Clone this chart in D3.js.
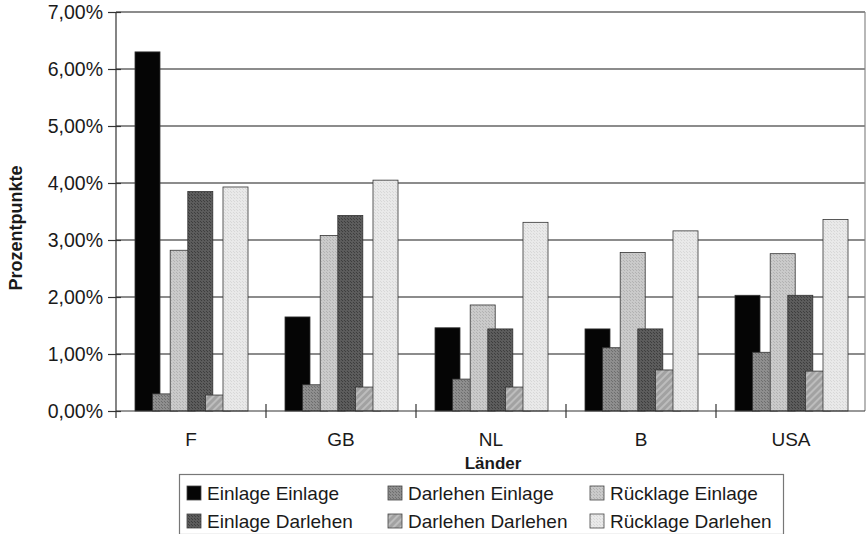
<!DOCTYPE html>
<html>
<head>
<meta charset="utf-8">
<script src="https://cdn.jsdelivr.net/npm/d3@7/dist/d3.min.js"></script>
<style>
  html, body { margin: 0; padding: 0; background: #fff; }
  svg { display: block; }
  text { font-family: "Liberation Sans", Arial, sans-serif; fill: #1a1a1a; }
</style>
</head>
<body>
<svg id="chart" width="866" height="534"></svg>
<script>
const categories = ["F", "GB", "NL", "B", "USA"];
const seriesNames = ["Einlage Einlage", "Darlehen Einlage", "Rücklage Einlage",
                     "Einlage Darlehen", "Darlehen Darlehen", "Rücklage Darlehen"];
const einlageEinlage   = [6.30, 1.65, 1.46, 1.44, 2.03];
const darlehenEinlage  = [0.30, 0.46, 0.56, 1.11, 1.03];
const ruecklageEinlage = [2.82, 3.08, 1.86, 2.78, 2.76];
const einlageDarlehen  = [3.85, 3.43, 1.44, 1.44, 2.03];
const darlehenDarlehen = [0.28, 0.42, 0.42, 0.72, 0.70];
const ruecklageDarlehen= [3.93, 4.05, 3.31, 3.16, 3.36];
const seriesValues = [einlageEinlage, darlehenEinlage, ruecklageEinlage,
                      einlageDarlehen, darlehenDarlehen, ruecklageDarlehen];
const yTicks = [0, 1, 2, 3, 4, 5, 6, 7];
const yTickLabels = ["0,00%", "1,00%", "2,00%", "3,00%", "4,00%", "5,00%", "6,00%", "7,00%"];
const xTitle = "Länder";
const yTitle = "Prozentpunkte";

const svg = d3.select("#chart");
const L = 116, R = 865, T = 12, B = 411;

const defs = svg.append("defs");
function dotPattern(id, bg, dot) {
  const p = defs.append("pattern").attr("id", id).attr("width", 3).attr("height", 3)
    .attr("patternUnits", "userSpaceOnUse");
  p.append("rect").attr("width", 3).attr("height", 3).attr("fill", bg);
  p.append("rect").attr("x", 0).attr("y", 0).attr("width", 1).attr("height", 1).attr("fill", dot);
  p.append("rect").attr("x", 2).attr("y", 2).attr("width", 1).attr("height", 1).attr("fill", dot);
}
dotPattern("pDE", "#8e8e8e", "#6e6e6e");
dotPattern("pRE", "#cacaca", "#b2b2b2");
dotPattern("pED", "#5c5c5c", "#3e3e3e");
dotPattern("pRD", "#e9e9e9", "#d8d8d8");
const h = defs.append("pattern").attr("id", "pDD").attr("width", 5).attr("height", 5)
  .attr("patternUnits", "userSpaceOnUse").attr("patternTransform", "rotate(45)");
h.append("rect").attr("width", 5).attr("height", 5).attr("fill", "#a2a2a2");
h.append("rect").attr("width", 2).attr("height", 5).attr("fill", "#bdbdbd");
const fills = ["#050505", "url(#pDE)", "url(#pRE)", "url(#pED)", "url(#pDD)", "url(#pRD)"];
const legendFills = fills;

const x = d3.scaleBand().domain(categories).range([L, R + 1]).padding(0);
const inner = d3.scalePoint().domain(d3.range(seriesNames.length)).range([19, 107]);
const barW = 25;
const y = d3.scaleLinear().domain([0, 7]).range([B, T]);

// gridlines
svg.append("g").selectAll("line").data(yTicks.filter(d => d > 0)).join("line")
  .attr("x1", L).attr("x2", R).attr("y1", d => y(d)).attr("y2", d => y(d))
  .attr("stroke", "#666").attr("stroke-width", 1.4);
// right border
svg.append("line").attr("x1", R).attr("x2", R).attr("y1", T).attr("y2", B)
  .attr("stroke", "#888").attr("stroke-width", 1.2);

// bars
const bars = svg.append("g");
seriesValues.forEach((vals, si) => {
  bars.append("g").selectAll("rect").data(vals).join("rect")
    .attr("x", (d, i) => x(categories[i]) + inner(si))
    .attr("y", d => y(d))
    .attr("width", barW)
    .attr("height", d => B - y(d))
    .attr("fill", fills[si])
    .attr("stroke", "#333").attr("stroke-width", 0.8);
});

// y axis
const yAxis = d3.axisLeft(y).tickValues(yTicks).tickFormat((d, i) => yTickLabels[i])
  .tickSize(0).tickPadding(13);
const gy = svg.append("g").attr("transform", `translate(${L},0)`).call(yAxis);
gy.select(".domain").attr("stroke", "#333").attr("stroke-width", 1.2).attr("d", `M0,${T}V${B + 7}`);
gy.selectAll(".tick line").attr("x1", -8).attr("x2", 5).attr("stroke", "#333").attr("stroke-width", 1.2);
gy.selectAll("text").attr("font-size", 19.5).attr("fill", "#1a1a1a")
  .style("font-family", '"Liberation Sans", Arial, sans-serif');

// x axis
const xAxis = d3.axisBottom(x).tickSize(0).tickPadding(22);
const gx = svg.append("g").attr("transform", `translate(0,${B})`).call(xAxis);
gx.select(".domain").attr("stroke", "#333").attr("stroke-width", 1.2).attr("d", `M${L},0H${R}`);
gx.selectAll(".tick line").remove();
gx.selectAll("text").attr("font-size", 19).attr("fill", "#1a1a1a")
  .style("font-family", '"Liberation Sans", Arial, sans-serif');
gx.append("g").selectAll("line").data(categories.slice(1)).join("line")
  .attr("x1", d => x(d)).attr("x2", d => x(d)).attr("y1", -7).attr("y2", 7)
  .attr("stroke", "#333").attr("stroke-width", 1.2);

// titles
svg.append("text").attr("x", 493).attr("y", 469).attr("text-anchor", "middle")
  .attr("font-size", 17).attr("font-weight", "bold").text(xTitle);
svg.append("text").attr("transform", "translate(22,228) rotate(-90)").attr("text-anchor", "middle")
  .attr("font-size", 18).attr("font-weight", "bold").text(yTitle);

// legend
svg.append("rect").attr("x", 179.5).attr("y", 474.5).attr("width", 604).attr("height", 60)
  .attr("fill", "#fff").attr("stroke", "#777").attr("stroke-width", 1.2);
const colX = [187, 388, 590];
const rowY = [493, 521];
const order = [0, 1, 2, 3, 4, 5];
const lg = svg.append("g");
order.forEach((si, k) => {
  const col = k % 3, row = Math.floor(k / 3);
  lg.append("rect").attr("x", colX[col]).attr("y", rowY[row] - 7).attr("width", 14).attr("height", 14)
    .attr("fill", legendFills[si]).attr("stroke", "#444").attr("stroke-width", 0.8);
  lg.append("text").attr("x", colX[col] + 20).attr("y", rowY[row]).attr("dy", "0.35em")
    .attr("font-size", 19).text(seriesNames[si]);
});
</script>
</body>
</html>
